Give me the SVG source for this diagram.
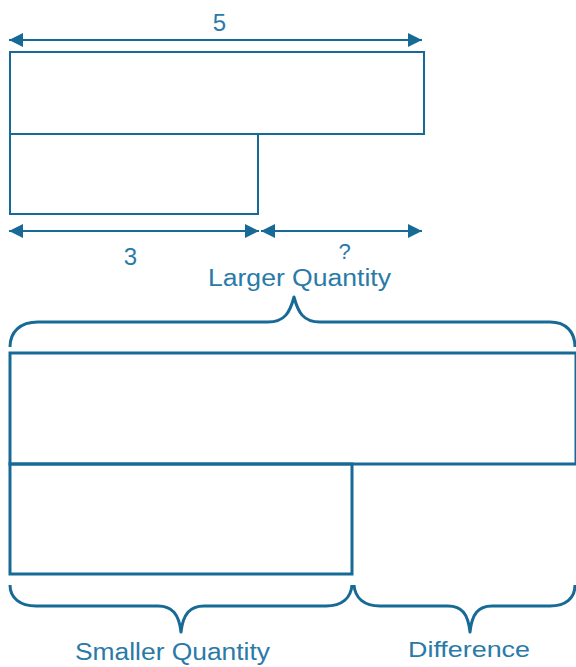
<svg xmlns="http://www.w3.org/2000/svg" width="576" height="667" viewBox="0 0 576 667">
<style>
.box{fill:none;stroke:#176a96;stroke-width:2}
.bigbox{fill:none;stroke:#176a96;stroke-width:3}
.arrow{fill:none;stroke:#176a96;stroke-width:2;marker-start:url(#ah);marker-end:url(#ah)}
.brace{fill:none;stroke:#176a96;stroke-width:3;stroke-linejoin:round}
.lbl{font-family:"Liberation Sans",Arial,sans-serif;fill:#2a7aa8;text-anchor:middle}
</style>
<defs>
<marker id="ah" markerUnits="userSpaceOnUse" markerWidth="16" markerHeight="16" refX="14" refY="7" orient="auto-start-reverse">
<path d="M0,0 L14,7 L0,14 z" fill="#176a96"/>
</marker>
</defs>
<rect width="576" height="667" fill="#ffffff"/>
<g id="top-whole"><rect class="box" x="10" y="52" width="414" height="82"/></g>
<g id="top-part"><rect class="box" x="10" y="134" width="248" height="80"/></g>
<g id="larger-bar"><rect class="bigbox" x="10" y="353" width="566" height="111"/></g>
<g id="smaller-bar"><rect class="bigbox" x="10" y="464" width="342" height="110"/></g>
<g id="connectors">
<line class="arrow" x1="9" y1="40" x2="422" y2="40"/>
<line class="arrow" x1="9" y1="231" x2="259" y2="231"/>
<line class="arrow" x1="261" y1="231" x2="422" y2="231"/>
<path class="brace" d="M10,347 C10,332 20,322 38,322 L268,322 C285,322 290,312 294,297 C298,312 303,322 320,322 L550,322 C566,322 575,332 575,347"/>
<path class="brace" d="M10,585 C10,598 20,606 36,606 L158,606 C172,606 179,614 181,632 C183,614 190,606 204,606 L326,606 C342,606 351,598 352,585"/>
<path class="brace" d="M354,585 C355,598 364,606 380,606 L448,606 C462,606 468,614 470,632 C472,614 478,606 492,606 L550,606 C566,606 575,598 575,585"/>
</g>
<g id="labels">
<text class="lbl" x="219.5" y="31" font-size="24">5</text>
<text class="lbl" x="130.5" y="265" font-size="24">3</text>
<text class="lbl" x="344.5" y="259" font-size="22">?</text>
<text class="lbl" x="299.5" y="286" font-size="23.5" textLength="183" lengthAdjust="spacingAndGlyphs">Larger Quantity</text>
<text class="lbl" x="172.5" y="660" font-size="23.5" textLength="195" lengthAdjust="spacingAndGlyphs">Smaller Quantity</text>
<text class="lbl" x="469" y="657" font-size="22" textLength="122" lengthAdjust="spacingAndGlyphs">Difference</text>
</g>
</svg>
